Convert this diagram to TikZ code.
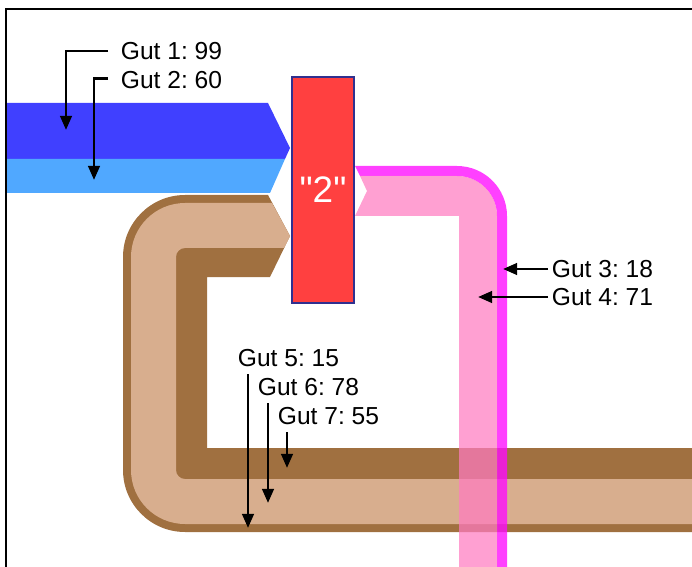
\documentclass[tikz,border=0pt]{standalone}
\usepackage{fontspec}
\setmainfont{Liberation Sans}
\newfontfamily\hubfont{Liberation Sans}
\usetikzlibrary{arrows.meta, positioning}
\definecolor{blueflow}{HTML}{4040FF}
\definecolor{skyflow}{HTML}{50A8FF}
\definecolor{nodered}{HTML}{FF4040}
\definecolor{nodeedge}{HTML}{30308F}
\definecolor{barkbrown}{HTML}{A07040}
\definecolor{tanbrown}{HTML}{D8AE8E}
\definecolor{pinkflow}{HTML}{FF7BC0}
\definecolor{magflow}{HTML}{FF0AFF}
\frenchspacing

\begin{document}
\begin{tikzpicture}[x=0.02cm, y=-0.02cm,
  lbl/.style={font=\fontsize{14}{16}\selectfont, anchor=west, inner sep=2pt},
  ptr/.style={-{Triangle[length=8pt, width=6.5pt]}, line width=1.6pt, black},
  hub/.style={draw=nodeedge, line width=0.6pt, fill=nodered, text=white,
    minimum width=1.24cm, minimum height=4.52cm, inner sep=0pt,
    font=\hubfont\fontsize{21}{24}\selectfont}]

\useasboundingbox (0,0) rectangle (692,567);
\clip (0,0) rectangle (692,567);

% --- Brown loop (Gut 5, 6, 7) ---
\fill[barkbrown] (700,532) -- (185,532) arc[start angle=90, end angle=180, radius=62]
  -- (123,257) arc[start angle=180, end angle=270, radius=62]
  -- (268,195) -- (290,236) -- (270,277) -- (207,277) -- (207,448) -- (700,448) -- cycle;
\fill[tanbrown] (700,524) -- (185,524) arc[start angle=90, end angle=180, radius=54]
  -- (131,257) arc[start angle=180, end angle=270, radius=54]
  -- (272,203) -- (290,236) -- (284,248)
  -- (185,248) arc[start angle=270, end angle=180, radius=9]
  -- (176,470) arc[start angle=180, end angle=90, radius=9]
  -- (700,479) -- cycle;

% --- Pink flow (Gut 3, 4) ---
\fill[magflow, fill opacity=0.78] (355,166) -- (457,166) arc[start angle=-90, end angle=0, radius=50]
  -- (507,580) -- (497,580) -- (497,216) arc[start angle=0, end angle=-90, radius=40]
  -- (360,176) -- cycle;
\fill[pinkflow, fill opacity=0.72] (360,176) -- (457,176) arc[start angle=-90, end angle=0, radius=40]
  -- (497,580) -- (459,580) -- (459,216) -- (355,216) -- (367,191) -- cycle;

% --- Blue flows (Gut 1, 2) ---
\fill[blueflow] (6,103) -- (268,103) -- (290,148) -- (285,159) -- (6,159) -- cycle;
\fill[skyflow] (6,159) -- (285,159) -- (270,193) -- (6,193) -- cycle;

% Node
\node[hub] (hub) at (323,190) {\raisebox{-2pt}{"2"}};

% --- Labels ---
\node[lbl] (g1) at (117,51) {Gut 1: 99};
\node[lbl] (g2) at (117,80) {Gut 2: 60};
\node[lbl] (g3) at (548,269) {Gut 3: 18};
\node[lbl] (g4) at (548,297) {Gut 4: 71};
\node[lbl] (g5) at (234,358) {Gut 5: 15};
\node[lbl] (g6) at (254,387) {Gut 6: 78};
\node[lbl] (g7) at (274,416) {Gut 7: 55};

\coordinate (g1tip) at (66,130);
\coordinate (g2tip) at (94,180);
\coordinate (g3tip) at (503,269);
\coordinate (g4tip) at (478,297);
\coordinate (g5tip) at (248,528);
\coordinate (g6tip) at (268,503);
\coordinate (g7tip) at (287,468);

\draw[ptr] ([xshift=-5pt]g1.west) -| (g1tip);
\draw[ptr] ([xshift=-5pt, yshift=1pt]g2.west) -| (g2tip);
\draw[ptr] (g3.west) -- (g3tip);
\draw[ptr] (g4.west) -- (g4tip);
\draw[ptr] ([yshift=-2pt]g5.south -| g5tip) -- (g5tip);
\draw[ptr] ([yshift=-2pt]g6.south -| g6tip) -- (g6tip);
\draw[ptr] ([yshift=-2pt]g7.south -| g7tip) -- (g7tip);

% Frame
\draw[line width=1.1pt] (6,570) -- (6,9) -- (700,9);

\end{tikzpicture}
\end{document}
